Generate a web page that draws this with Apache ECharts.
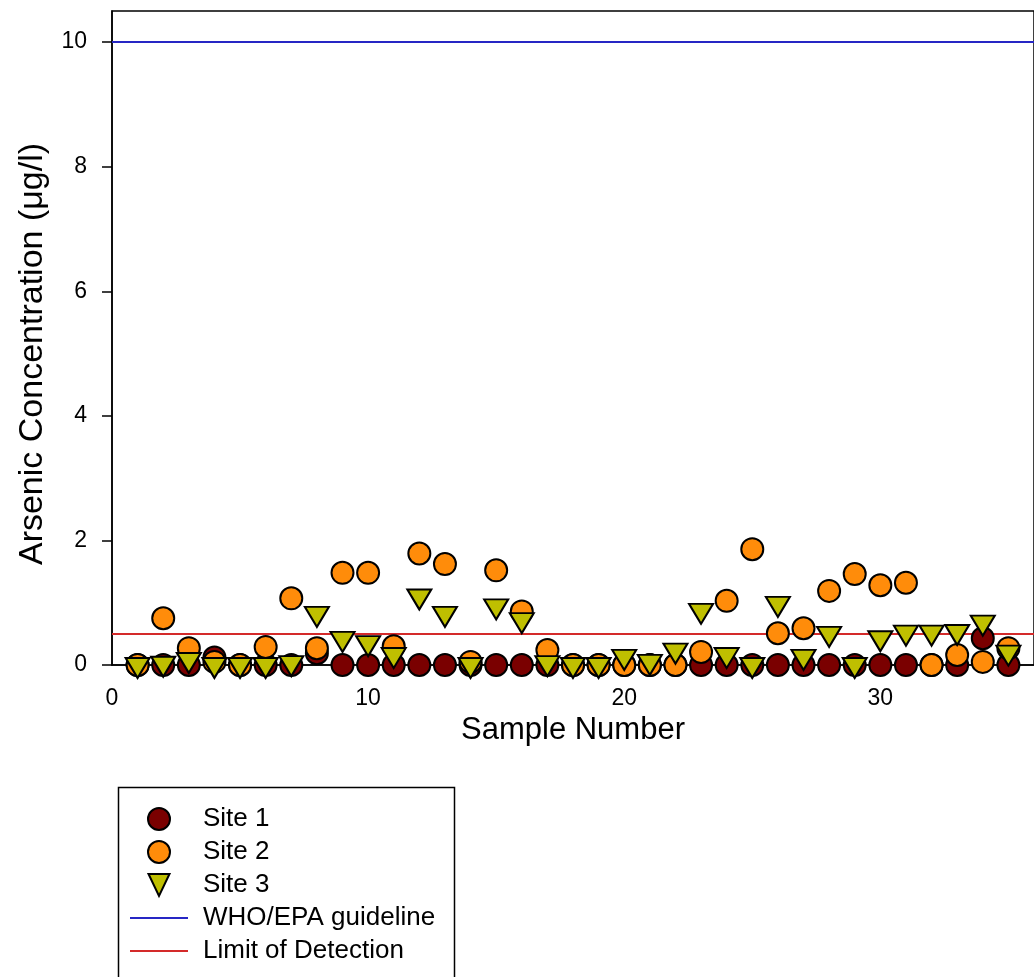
<!DOCTYPE html>
<html>
<head>
<meta charset="utf-8">
<script src="https://cdn.jsdelivr.net/npm/echarts@6/dist/echarts.min.js"></script>
<style>
body{margin:0;background:#fff;}
#chart{width:1034px;height:977px;}
</style>
</head>
<body>
<div id="chart"></div>
<script>
// sample numbers 1..35
var samples = [1,2,3,4,5,6,7,8,9,10,11,12,13,14,15,16,17,18,19,20,21,22,23,24,25,26,27,28,29,30,31,32,33,34,35];
// arsenic concentration (ug/l)
var site1 = [0,0,0,0.12,0,0,0,0.19,0,0,0,0,0,0,0,0,0,0,0,0,0,0,0,0,0,0,0,0,0,0,0,0,0,0.43,0];
var site2 = [0,0.75,0.27,0.05,0,0.29,1.07,0.27,1.48,1.48,0.30,1.79,1.62,0.05,1.52,0.86,0.24,0,0,0,0,0,0.21,1.03,1.86,0.51,0.59,1.19,1.46,1.28,1.32,0,0.16,0.05,0.27];
var site3 = [0,0.02,0.08,0,0,0,0.03,0.82,0.42,0.35,0.16,1.10,0.82,0,0.94,0.72,0.03,0,0,0.13,0.05,0.23,0.87,0.16,0,0.98,0.13,0.50,0,0.43,0.52,0.52,0.53,0.68,0.20];
var whoLimit = 10;
var detectLimit = 0.5;
var xTicks = [0,10,20,30];
var yTicks = [0,2,4,6,8,10];

function pairs(vals){
	var out = [];
	for(var i=0;i<samples.length;i++){
		out.push([samples[i], vals[i]]);
	}
	return out;
}

var FONT = '"Liberation Sans", Arial, sans-serif';
var LINE_ICON = 'path://M0,0 L58,0 L58,2 L0,2 Z';
var myChart = echarts.init(document.getElementById('chart'));

var option = {
	animation: false,
	backgroundColor: '#fff',
	grid: {
		left: 112, top: 11, right: -8, bottom: 312,
		show: true, borderColor: '#000', borderWidth: 1.5
	},
	graphic: [{
		type: 'rect',
		left: 116, top: 785,
		shape: {width: 336, height: 230},
		style: {fill: 'none', stroke: '#000', lineWidth: 1.5},
		z: 0
	}],
	legend: {
		orient: 'vertical',
		left: 130, top: 806, padding: 0, height: 400,
		itemWidth: 58, itemHeight: 22, itemGap: 7,
		textStyle: {fontFamily: FONT, fontSize: 26, lineHeight: 22, color: '#000', padding: [0,0,0,10]},
		data: [
			{name: 'Site 1', icon: 'circle'},
			{name: 'Site 2', icon: 'circle'},
			{name: 'Site 3', icon: 'path://M0,0 L21,0 L10.5,22 Z'},
			{name: 'WHO/EPA guideline', icon: LINE_ICON, itemStyle: {borderWidth: 0}},
			{name: 'Limit of Detection', icon: LINE_ICON, itemStyle: {borderWidth: 0}}
		]
	},
	xAxis: {
		type: 'value', min: 0, max: 36, interval: 10,
		name: 'Sample Number', nameLocation: 'middle', nameGap: 40,
		nameTextStyle: {fontFamily: FONT, fontSize: 31, color: '#000'},
		axisLine: {show: true, onZero: false, lineStyle: {color: '#000', width: 1.5}},
		axisTick: {show: false},
		axisLabel: {customValues: xTicks, margin: 22, fontFamily: FONT, fontSize: 23, color: '#000'},
		splitLine: {show: false}
	},
	yAxis: {
		type: 'value', min: 0, max: 10.5, interval: 2,
		name: 'Arsenic Concentration (\u03bcg/l)', nameLocation: 'middle', nameGap: 62,
		nameTextStyle: {fontFamily: FONT, fontSize: 34, color: '#000', padding: [0,32,0,0]},
		axisLine: {show: true, lineStyle: {color: '#000', width: 1.5}},
		axisTick: {show: true, customValues: yTicks, length: 10, lineStyle: {color: '#000', width: 1.5}},
		axisLabel: {customValues: yTicks, margin: 25, fontFamily: FONT, fontSize: 23, color: '#000'},
		splitLine: {show: false}
	},
	series: [
		{
			name: 'WHO/EPA guideline', type: 'line', data: [],
			itemStyle: {color: '#2626c4'}, lineStyle: {color: '#2626c4'},
			markLine: {
				silent: true, symbol: ['none','none'], z: 1, label: {show: false},
				lineStyle: {color: '#2626c4', width: 1.8, type: 'solid'},
				data: [{yAxis: whoLimit}]
			}
		},
		{
			name: 'Limit of Detection', type: 'line', data: [],
			itemStyle: {color: '#d42a2a'}, lineStyle: {color: '#d42a2a'},
			markLine: {
				silent: true, symbol: ['none','none'], z: 1, label: {show: false},
				lineStyle: {color: '#d42a2a', width: 1.8, type: 'solid'},
				data: [{yAxis: detectLimit}]
			}
		},
		{
			name: 'Site 1', type: 'scatter', data: pairs(site1), clip: false,
			symbol: 'circle', symbolSize: 22,
			itemStyle: {color: '#7a0000', borderColor: '#000', borderWidth: 2, opacity: 1}
		},
		{
			name: 'Site 2', type: 'scatter', data: pairs(site2), clip: false,
			symbol: 'circle', symbolSize: 22,
			itemStyle: {color: '#ff8c0a', borderColor: '#000', borderWidth: 2, opacity: 1}
		},
		{
			name: 'Site 3', type: 'scatter', data: pairs(site3), clip: false,
			symbol: 'triangle', symbolRotate: 180, symbolSize: [24, 20], symbolOffset: [0, 3],
			itemStyle: {color: '#bfbf00', borderColor: '#000', borderWidth: 2, opacity: 1}
		}
	]
};
myChart.setOption(option);
</script>
</body>
</html>
